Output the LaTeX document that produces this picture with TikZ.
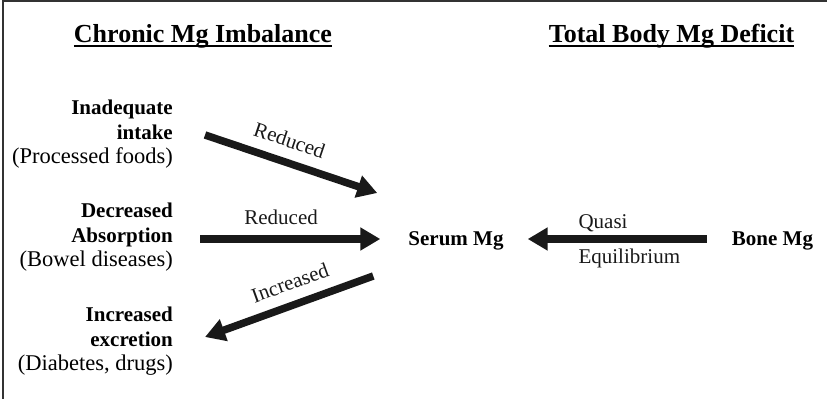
\documentclass[tikz,border=0pt]{standalone}
\usepackage{fontspec}
\setmainfont{Liberation Serif}
\usetikzlibrary{arrows.meta, positioning}
\tikzset{
  cause/.style   = {align=right, inner sep=0pt, anchor=east,
                    font=\fontsize{21}{24.5}\selectfont\bfseries},
  pool/.style    = {inner sep=0pt, font=\fontsize{21}{24}\selectfont\bfseries},
  heading/.style = {inner sep=0pt, anchor=base,
                    font=\fontsize{26}{30}\selectfont\bfseries},
  lbl/.style     = {inner sep=0pt, font=\fontsize{21}{24}\selectfont},
  arr/.style     = {-{Triangle[length=20pt, width=22pt]}, line width=7.5pt, black!90},
  uline/.style   = {line width=1.5pt},
  frame/.style   = {line width=1.3pt, black!80}
}
\newcommand{\srcnote}[1]{{\fontsize{22.5}{24.5}\selectfont\mdseries #1}}

\begin{document}
\begin{tikzpicture}[x=1pt, y=-1pt]
  \useasboundingbox (0,0) rectangle (827,399);
  \draw[frame] (827,1) -- (3,1) -- (3,399);
  \node[heading] (chronic) at (203,42)   {Chronic Mg Imbalance};
  \node[heading] (deficit) at (671.5,42) {Total Body Mg Deficit};
  \draw[uline] ([yshift=-4pt]chronic.base west) -- ([yshift=-4pt]chronic.base east);
  \draw[uline] ([yshift=-4pt]deficit.base west) -- ([yshift=-4pt]deficit.base east);
  \node[cause] (intake)  at (173,134.3) {Inadequate\\intake\\\srcnote{(Processed foods)}};
  \node[cause] (absorb)  at (173,237.3) {Decreased\\Absorption\\\srcnote{(Bowel diseases)}};
  \node[cause] (excrete) at (173,341.3) {Increased\\excretion\\\srcnote{(Diabetes, drugs)}};
  \node[pool]  (serum)   at (456,241)   {Serum Mg};
  \node[pool]  (bone)    at (772.5,241) {Bone Mg};
  \draw[arr] ([shift={(32pt,-0.7pt)}]intake.east) --
    node[lbl, sloped, above=11pt, pos=0.45] {Reduced} ([shift={(-31pt,48pt)}]serum.west);
  \draw[arr] ([shift={(27pt,-1.7pt)}]absorb.east) --
    node[lbl, above=11pt, pos=0.45] {Reduced} ([shift={(-28pt,2pt)}]serum.west);
  \draw[arr] ([shift={(-35pt,-35pt)}]serum.west) --
    node[lbl, sloped, above=11pt, pos=0.45] {Increased} ([shift={(32pt,4.3pt)}]excrete.east);
  \draw[arr] ([shift={(-25pt,2pt)}]bone.west) --
    node[lbl, pos=0.737, anchor=base west, yshift=11pt] {Quasi}
    node[lbl, pos=0.737, anchor=base west, yshift=-24pt] {Equilibrium}
    ([shift={(24pt,2pt)}]serum.east);
\end{tikzpicture}
\end{document}
